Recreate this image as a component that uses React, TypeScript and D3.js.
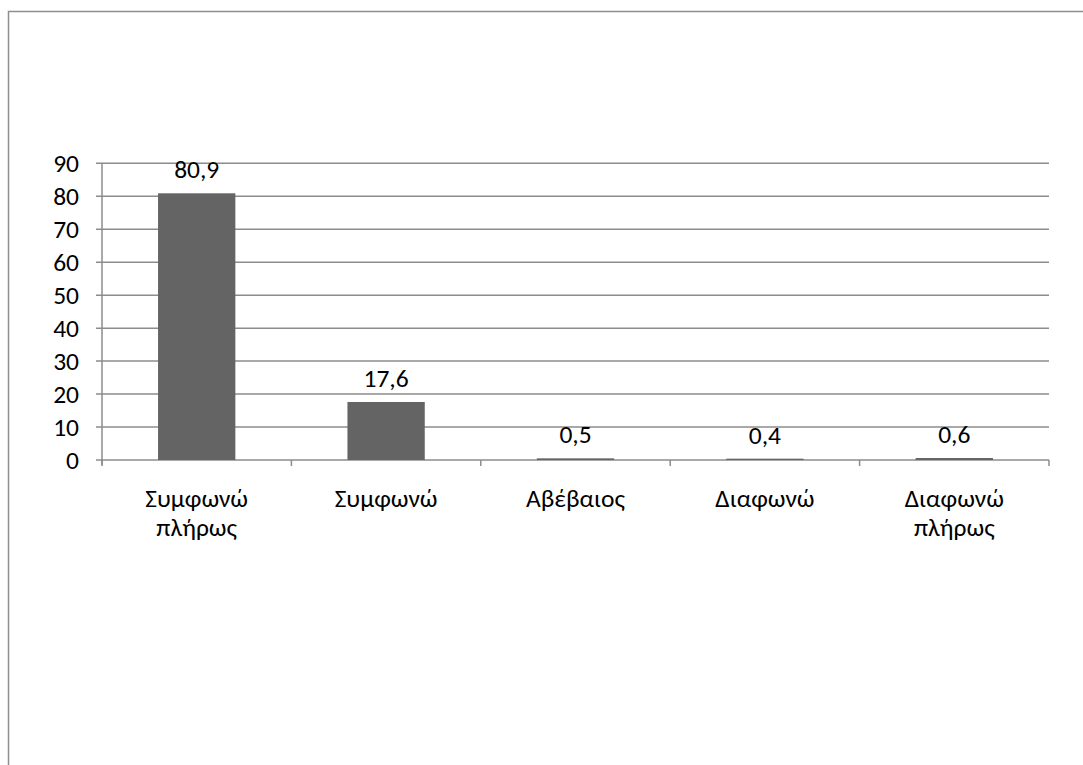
import React from "react";
import * as d3 from "d3";

const categories: string[][] = [["Συμφωνώ", "πλήρως"], ["Συμφωνώ"], ["Αβέβαιος"], ["Διαφωνώ"], ["Διαφωνώ", "πλήρως"]];
const values: number[] = [80.9, 17.6, 0.5, 0.4, 0.6];
const yTicks: number[] = [0, 10, 20, 30, 40, 50, 60, 70, 80, 90];

const W = 1083, H = 765;
const left = 102, right = 1049, top = 163.3, bottom = 460;
const font = "Carlito, 'Open Sans', 'Noto Sans', sans-serif";
const fs = 25.5;

export default function App() {
  const x = d3.scaleBand<number>().domain(d3.range(values.length)).range([left, right]);
  const band = x.bandwidth();
  const y = d3.scaleLinear().domain([0, 90]).range([bottom, top]);
  const bw = band / 2.45;
  const fmt = (v: number) => v.toFixed(1).replace(".", ",");
  return (
    <svg width={W} height={H} style={{ position: "absolute", left: 0, top: 0 }} fontFamily={font}>
      <rect x={0} y={0} width={W} height={H} fill="#fff" />
      <path d={`M8.5,${H + 5} V11.5 H${W + 5}`} fill="none" stroke="#8f8f8f" strokeWidth={1.5} />
      {yTicks.map((t) => (
        <g key={t}>
          <line x1={96} x2={right} y1={y(t)} y2={y(t)} stroke="#8c8c8c" strokeWidth={1.5} />
          <text x={79} y={y(t)} dy="0.35em" textAnchor="end" fontSize={fs} fill="#000">{t}</text>
        </g>
      ))}
      <line x1={left} x2={left} y1={top} y2={bottom + 5} stroke="#8c8c8c" strokeWidth={1.5} />
      {d3.range(values.length + 1).map((i) => (
        <line key={i} x1={left + i * band} x2={left + i * band} y1={bottom} y2={bottom + 6} stroke="#8c8c8c" strokeWidth={1.5} />
      ))}
      {values.map((v, i) => {
        const cx = (x(i) as number) + band / 2;
        const h = Math.max(bottom - y(v), 0);
        return (
          <g key={i}>
            <rect x={cx - bw / 2} y={y(v)} width={bw} height={h} fill="#646464" />
            <text x={cx} y={y(v) - 15} textAnchor="middle" fontSize={fs} fill="#000">{fmt(v)}</text>
            {categories[i].map((line, j) => (
              <text key={j} x={cx} y={507 + j * 28.5} textAnchor="middle" fontSize={fs} fill="#000">{line}</text>
            ))}
          </g>
        );
      })}
    </svg>
  );
}
